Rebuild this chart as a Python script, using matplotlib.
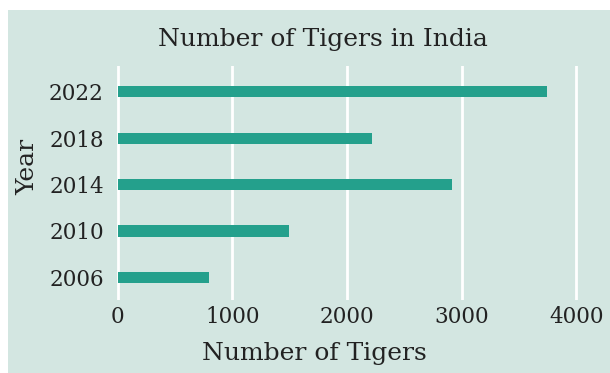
import matplotlib
matplotlib.use("Agg")
import matplotlib.pyplot as plt
from matplotlib.patches import Rectangle

years = [2006, 2010, 2014, 2018, 2022]
tigers = [800, 1495, 2918, 2218, 3746]

bg = "#d3e6e1"
bar_color = "#24a08c"
text_color = "#222222"

plt.rcParams["font.family"] = ["DejaVu Serif"]

W, H = 610, 373
fig = plt.figure(figsize=(W / 100, H / 100), dpi=100)
fig.patch.set_facecolor("white")
# light panel behind everything, offset from the top-left corner
fig.patches.append(Rectangle((8 / W, 0), 1, 1 - 10 / H, transform=fig.transFigure,
                             facecolor=bg, edgecolor="none", zorder=-10))

# axes placed in pixels
left, right, top, bottom = 108, 600, 65.5, 299.5
ax = fig.add_axes([left / W, 1 - bottom / H, (right - left) / W, (bottom - top) / H])
ax.set_facecolor(bg)

ax.barh(years, tigers, height=0.95, color=bar_color, zorder=3)

ax.set_xlim(-85, 4207)
ax.set_ylim(2004.1, 2024.25)
ax.set_xticks([0, 1000, 2000, 3000, 4000])
ax.set_yticks(years)
ax.set_yticklabels([str(y) for y in years])
ax.grid(axis="x", color="white", linewidth=2, zorder=1)
ax.set_axisbelow(True)
for s in ax.spines.values():
    s.set_visible(False)
ax.tick_params(length=0, labelsize=15.5, colors=text_color)
ax.tick_params(axis="x", pad=5)
ax.tick_params(axis="y", pad=3)

ax.set_title("Number of Tigers in India", fontsize=18, color=text_color,
             x=0.437, pad=14)
ax.set_xlabel("Number of Tigers", fontsize=18, color=text_color)
ax.xaxis.set_label_coords(0.419, -0.183)
ax.set_ylabel("Year", fontsize=18, color=text_color)
ax.yaxis.set_label_coords(-0.14, 0.568)

fig.savefig("out.png", dpi=100)
